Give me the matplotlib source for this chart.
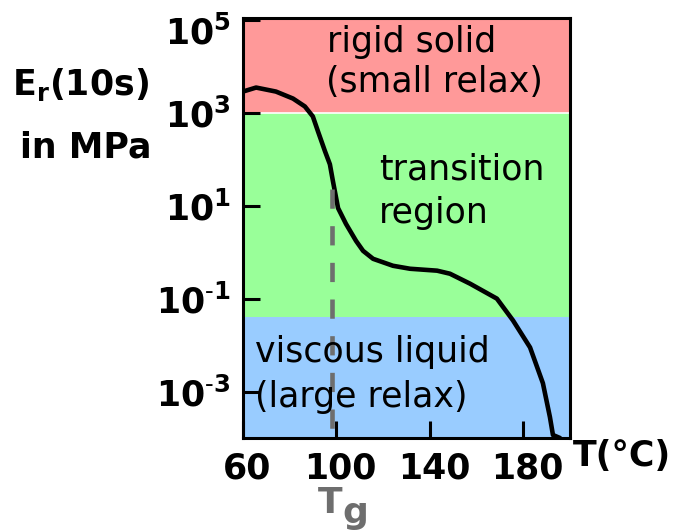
import matplotlib
matplotlib.use("Agg")
import matplotlib.pyplot as plt
import matplotlib.transforms as mtransforms

# Relaxation modulus Er(10 s) in MPa versus temperature in °C
temps = [60.0, 65.6, 74.1, 81.4, 86.5, 89.9, 92.1, 95.1, 97.2, 98.5, 100.7,
         104.1, 108.4, 111.4, 115.7, 124.2, 131.5, 143.1, 148.6, 157.2,
         168.7, 175.6, 182.9, 188.4, 191.4, 192.7, 195.7]
modulus = [2870, 3500, 2870, 2030, 1370, 836, 399, 149, 78, 33.8, 8.9,
           4.06, 1.75, 1.07, 0.72, 0.51, 0.44, 0.40, 0.344, 0.21,
           0.100, 0.0339, 0.0089, 0.00151, 0.000283, 0.000116, 0.0001]

# Behaviour regions (lower, upper modulus bound in MPa)
region_bounds = [(1e3, 1.1e5), (0.04, 1e3), (1e-4, 0.04)]
region_colors = ["#FF9999", "#99FF99", "#99CCFF"]

Tg = 98.2
Tg_line_top = 23.0
x_ticks = [60, 100, 140, 180]
x_tick_labels = ["60", "100", "140", "180"]
y_ticks = [1e-3, 1e-1, 1e1, 1e3, 1e5]
y_tick_labels = [r"$\mathbf{10^{\text{-}3}}$", r"$\mathbf{10^{\text{-}1}}$",
                 r"$\mathbf{10^{1}}$", r"$\mathbf{10^{3}}$", r"$\mathbf{10^{5}}$"]

W, H = 673, 531
fig = plt.figure(figsize=(W / 100, H / 100), dpi=100)
ax = fig.add_axes([243 / W, 93 / H, 327 / W, 420 / H])


def fpos(x, y):
    return x / W, 1 - y / H


for (lo, hi), c in zip(region_bounds, region_colors):
    ax.axhspan(lo, hi, color=c, lw=0, zorder=0)
ax.axhline(1e3, color="white", lw=1.2, zorder=1)

ax.plot(temps, modulus, color="black", lw=3.3, zorder=3,
        solid_joinstyle="round", solid_capstyle="round")
ax.plot([Tg, Tg], [Tg_line_top, 1e-4], color="#6E6E6E", lw=3.3,
        linestyle=(0, (4.2, 3.8)), zorder=4)

ax.set_yscale("log")
ax.set_xlim(60, 200)
ax.set_ylim(1e-4, 1.1e5)

ax.set_xticks(x_ticks)
ax.set_xticklabels(x_tick_labels, fontsize=25, fontweight="bold")
ax.set_yticks(y_ticks)
ax.set_yticklabels(y_tick_labels, fontsize=25)
ax.minorticks_off()
ax.tick_params(direction="in", length=12, width=2.2, pad=9)
ax.tick_params(axis="x", pad=10)
for s in ax.spines.values():
    s.set_linewidth(2.2)

# nudge the top label down so it sits beside the frame corner
for lbl in ax.get_yticklabels():
    if "5" in lbl.get_text():
        lbl.set_transform(lbl.get_transform() +
                          mtransforms.ScaledTranslation(0, -10 / 100, fig.dpi_scale_trans))
for lbl in ax.get_xticklabels():
    lbl.set_transform(lbl.get_transform() +
                      mtransforms.ScaledTranslation(4 / 100, 0, fig.dpi_scale_trans))

# region captions
fs = 25
fig.text(*fpos(412, 52), "rigid solid", fontsize=fs, ha="center", va="baseline")
fig.text(*fpos(434, 92), "(small relax)", fontsize=fs, ha="center", va="baseline")
fig.text(*fpos(379, 180), "transition", fontsize=fs, ha="left", va="baseline")
fig.text(*fpos(379, 223), "region", fontsize=fs, ha="left", va="baseline")
fig.text(*fpos(255, 362), "viscous liquid", fontsize=fs, ha="left", va="baseline", zorder=1)
fig.text(*fpos(255, 407), "(large relax)", fontsize=fs, ha="left", va="baseline", zorder=1)

# axis titles
fig.text(*fpos(80, 95), r"$\mathbf{E_r(10s)}$", fontsize=25, ha="center", va="baseline")
fig.text(*fpos(86, 157), "in MPa", fontsize=25, fontweight="bold", ha="center", va="baseline")
fig.text(*fpos(573, 466), "T(°C)", fontsize=25, fontweight="bold", ha="left", va="baseline")

# glass transition marker
fig.text(*fpos(318, 513), "T", fontsize=26, fontweight="bold", color="#6E6E6E",
         ha="left", va="baseline")
fig.text(*fpos(342, 523), "g", fontsize=26, fontweight="bold", color="#6E6E6E",
         ha="left", va="baseline")

fig.savefig("out.png", dpi=100)
